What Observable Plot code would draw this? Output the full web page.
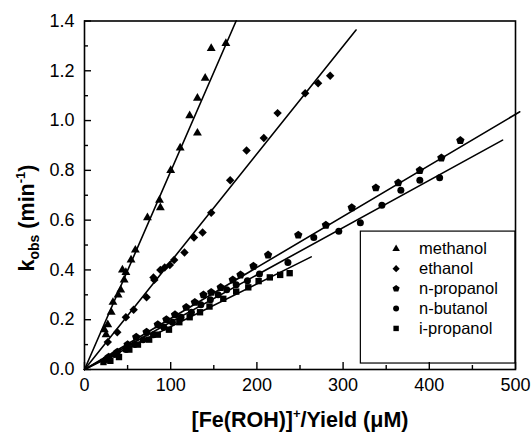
<!DOCTYPE html>
<html><head><meta charset="utf-8">
<script src="https://cdn.jsdelivr.net/npm/d3@7"></script>
<script src="https://cdn.jsdelivr.net/npm/@observablehq/plot@0.6"></script>
<style>body{margin:0;background:#fff}</style>
</head><body><div id="chart"></div>
<script>
const seriesNames = ["methanol","ethanol","n-propanol","n-butanol","i-propanol"];

const methanolX = [23,25,27,31,33,39,42,44,46,48,54,59,73,87,88,100,111,122,131,131,140,147,164];
const methanolY = [0.16,0.14,0.18,0.23,0.27,0.30,0.32,0.40,0.36,0.39,0.44,0.48,0.61,0.68,0.65,0.80,0.89,1.02,0.95,1.09,1.17,1.29,1.31];

const ethanolX = [27,38,48,57,72,80,81,88,93,99,104,116,127,137,147,169,188,208,224,256,271,285];
const ethanolY = [0.11,0.15,0.21,0.24,0.29,0.37,0.36,0.40,0.41,0.42,0.44,0.47,0.53,0.55,0.63,0.76,0.88,0.93,1.03,1.11,1.15,1.18];

const npropX = [28,38,50,60,72,85,95,105,118,128,138,147,158,172,181,196,213,248,280,310,338,364,389,414,436];
const npropY = [0.05,0.07,0.10,0.13,0.15,0.18,0.20,0.22,0.25,0.27,0.30,0.31,0.33,0.36,0.38,0.415,0.46,0.54,0.58,0.65,0.73,0.75,0.80,0.85,0.92];

const nbutX = [25,35,48,58,68,80,92,102,112,124,135,146,155,165,176,189,203,236,266,295,320,345,367,389,412];
const nbutY = [0.04,0.06,0.08,0.10,0.12,0.14,0.17,0.19,0.21,0.23,0.26,0.28,0.30,0.32,0.34,0.357,0.384,0.43,0.53,0.555,0.59,0.66,0.72,0.76,0.77];

const ipropX = [22,30,40,52,62,75,85,98,110,122,134,145,161,176,190,202,215,227,238];
const ipropY = [0.03,0.035,0.05,0.08,0.10,0.12,0.14,0.16,0.19,0.21,0.23,0.253,0.284,0.313,0.33,0.355,0.37,0.38,0.387];

// fitted lines through the origin: slope and last x
const fitSlopes = [0.00796, 0.00433, 0.00205, 0.00190, 0.00172];
const fitEnds = [176, 315, 505, 485, 263];

const xTicks = [0,100,200,300,400,500];
const xMinor = [50,150,250,350,450];
const yTicks = [0,0.2,0.4,0.6,0.8,1.0,1.2,1.4];
const yMinor = [0.1,0.3,0.5,0.7,0.9,1.1,1.3];

const pentagon = {
  draw(context, size) {
    const R = Math.sqrt(size / (2.5 * Math.sin(2 * Math.PI / 5)));
    for (let i = 0; i < 5; i++) {
      const a = -Math.PI / 2 + i * 2 * Math.PI / 5;
      const px = R * Math.cos(a), py = R * Math.sin(a);
      if (i === 0) context.moveTo(px, py); else context.lineTo(px, py);
    }
    context.closePath();
  }
};
const symbols = ["triangle", "diamond2", pentagon, "circle", "square"];
const radii = [3.3, 3.8, 3.8, 3.5, 3.6];
const xsAll = [methanolX, ethanolX, npropX, nbutX, ipropX];
const ysAll = [methanolY, ethanolY, npropY, nbutY, ipropY];

const series = seriesNames.map((name, i) => ({
  name, symbol: symbols[i], r: radii[i],
  points: xsAll[i].map((x, j) => ({x, y: ysAll[i][j]})),
  fit: [{x: 0, y: 0}, {x: fitEnds[i], y: fitSlopes[i] * fitEnds[i]}]
}));

// legend layout (data units)
const legendBox = {x1: 320.6, x2: 500, y1: 0.024, y2: 0.554};
const legendSymX = 361.5, legendTextX = 388, legendTopY = 0.485, legendStep = 0.08;

const marks = [];
series.forEach(s => {
  marks.push(Plot.line(s.fit, {x: "x", y: "y", stroke: "black", strokeWidth: 1.6}));
});
series.forEach(s => {
  marks.push(Plot.dot(s.points, {x: "x", y: "y", symbol: s.symbol, r: s.r, fill: "black", stroke: "none"}));
});
marks.push(Plot.rect([legendBox], {x1: "x1", x2: "x2", y1: "y1", y2: "y2", fill: "white", stroke: "black", strokeWidth: 1.2}));
series.forEach((s, i) => {
  const row = [{x: legendSymX, tx: legendTextX, y: legendTopY - i * legendStep, name: s.name}];
  marks.push(Plot.dot(row, {x: "x", y: "y", symbol: s.symbol, r: s.r * 0.85, fill: "black", stroke: "none"}));
  marks.push(Plot.text(row, {x: "tx", y: "y", text: "name", textAnchor: "start", fontSize: 16.5, fill: "black"}));
});
marks.push(Plot.axisX(xMinor, {tickSize: -4, tickFormat: () => "", label: null, strokeWidth: 1.4}));
marks.push(Plot.axisX(xTicks, {tickSize: -7, tickFormat: () => "", label: null, strokeWidth: 1.4}));
marks.push(Plot.axisX(xTicks, {tickSize: 0, tickPadding: 9, fontSize: 18, label: null}));
marks.push(Plot.axisY(yMinor, {tickSize: -4, tickFormat: () => "", label: null, strokeWidth: 1.4}));
marks.push(Plot.axisY(yTicks, {tickSize: -7, tickFormat: () => "", label: null, strokeWidth: 1.4}));
marks.push(Plot.axisY(yTicks, {tickSize: 0, tickPadding: 10, fontSize: 18, tickFormat: d3.format(".1f"), label: null}));
marks.push(Plot.frame({stroke: "black", strokeWidth: 1.6}));

const chart = Plot.plot({
  width: 532, height: 437,
  marginLeft: 84, marginRight: 17, marginTop: 20.5, marginBottom: 68,
  x: {domain: [0, 500]},
  y: {domain: [0, 1.4]},
  style: {fontFamily: "'Liberation Sans', Arial, sans-serif", background: "white", color: "black", overflow: "visible"},
  marks
});

const svg = d3.select(chart);
const xl = svg.append("text")
  .attr("x", 300).attr("y", 427)
  .attr("text-anchor", "middle")
  .attr("font-size", 21.5).attr("font-weight", "bold")
  .attr("font-family", "'Liberation Sans', Arial, sans-serif").attr("fill", "black");
xl.append("tspan").text("[Fe(ROH)]");
xl.append("tspan").attr("font-size", 13).attr("dy", -9).text("+");
xl.append("tspan").attr("dy", 9).text("/Yield (μM)");

const yl = svg.append("text")
  .attr("transform", "translate(34,218) rotate(-90)")
  .attr("text-anchor", "middle")
  .attr("font-size", 21.5).attr("font-weight", "bold")
  .attr("font-family", "'Liberation Sans', Arial, sans-serif").attr("fill", "black");
yl.append("tspan").text("k");
yl.append("tspan").attr("font-size", 14).attr("dy", 5).text("obs");
yl.append("tspan").attr("dy", -5).text(" (min");
yl.append("tspan").attr("font-size", 13).attr("dy", -9).text("-1");
yl.append("tspan").attr("dy", 9).text(")");

document.getElementById("chart").appendChild(chart);
</script>
</body></html>
